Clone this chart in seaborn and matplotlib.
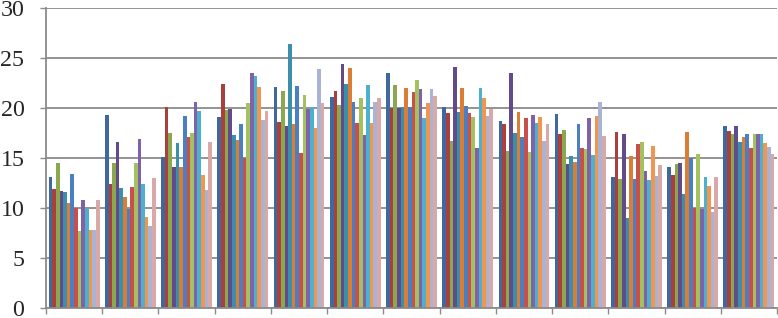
import pandas as pd
import seaborn as sns
import matplotlib.pyplot as plt


# 13 groups along the x axis (no labels shown in the chart)
groups = [f'g{i + 1}' for i in range(13)]

# 14 series, one value per group
s01 = [13.1, 19.3, 15.1, 19.1, 22.1, 21.1, 23.5, 20.1, 18.7, 19.4, 13.1, 14.1, 18.2]
s02 = [11.9, 12.4, 20.1, 22.4, 18.6, 21.7, 20.0, 19.5, 18.4, 17.4, 17.6, 13.3, 17.7]
s03 = [14.5, 14.5, 17.5, 19.8, 21.7, 20.3, 22.3, 16.7, 15.7, 17.8, 12.9, 14.4, 17.4]
s04 = [11.7, 16.6, 14.1, 19.9, 18.2, 24.4, 20.0, 24.1, 23.5, 14.4, 17.4, 14.5, 18.2]
s05 = [11.6, 12.0, 16.5, 17.3, 26.4, 22.4, 20.1, 19.6, 17.5, 15.2, 9.0, 11.4, 16.6]
s06 = [10.5, 11.1, 14.1, 16.8, 18.4, 24.0, 22.0, 22.0, 19.6, 14.6, 15.2, 17.6, 17.1]
s07 = [13.4, 9.9, 19.2, 18.4, 22.2, 20.6, 20.1, 20.2, 17.1, 18.4, 12.9, 15.0, 17.4]
s08 = [10.0, 12.1, 17.1, 15.0, 15.5, 18.5, 21.6, 19.5, 19.0, 16.0, 16.4, 10.0, 16.0]
s09 = [7.7, 14.5, 17.5, 20.5, 21.3, 21.0, 22.8, 19.1, 15.6, 15.9, 16.6, 15.4, 17.4]
s10 = [10.8, 16.9, 20.6, 23.5, 19.9, 17.3, 21.9, 16.0, 19.3, 19.0, 13.7, 9.9, 17.4]
s11 = [9.9, 12.4, 19.7, 23.2, 20.1, 22.3, 19.0, 22.0, 18.5, 15.3, 12.8, 13.1, 17.4]
s12 = [7.8, 9.1, 13.3, 22.1, 18.0, 18.5, 20.5, 21.0, 19.1, 19.2, 16.2, 12.2, 16.5]
s13 = [7.8, 8.2, 11.8, 18.8, 23.9, 20.6, 21.9, 19.2, 16.7, 20.6, 13.2, 9.6, 16.1]
s14 = [10.8, 13.0, 16.6, 19.7, 20.5, 21.0, 21.2, 19.9, 18.4, 17.2, 14.3, 13.1, 15.4]

series = [s01, s02, s03, s04, s05, s06, s07, s08, s09, s10, s11, s12, s13, s14]
series_names = [f'S{i + 1}' for i in range(len(series))]

colors = ['#41679f', '#a9403d', '#8ca84e', '#614b8a', '#3a90aa', '#db7d35',
          '#4b7fc3', '#c94f4c', '#a3c15f', '#7f63a9', '#4bb1cf', '#f2954e',
          '#a9b4d4', '#d8a9a8']

# long format for seaborn
rows = []
for name, vals in zip(series_names, series):
    for g, v in zip(groups, vals):
        rows.append({'group': g, 'series': name, 'value': v})
df = pd.DataFrame(rows)

sns.set_style('white')
plt.rcParams['font.family'] = ['Liberation Serif', 'DejaVu Serif']

fig = plt.figure(figsize=(7.78, 3.18), dpi=100)
ax = fig.add_axes([46 / 778, 10 / 318, 731 / 778, 300 / 318])

sns.barplot(data=df, x='group', y='value', hue='series', palette=colors,
            order=groups, hue_order=series_names, width=14 / 15.5, gap=0,
            saturation=1, linewidth=0, errorbar=None, legend=False, ax=ax)

grid_color = '#8a8a8a'
ax.set_ylim(0, 30)
ax.set_xlim(-0.5, len(groups) - 0.5)
ax.set_yticks(range(0, 31, 5))
ax.set_xticks([i - 0.5 for i in range(len(groups) + 1)])
ax.set_xticklabels([])
ax.set_xlabel('')
ax.set_ylabel('')

ax.yaxis.grid(True, color=grid_color, linewidth=1.3)
ax.set_axisbelow(True)
ax.tick_params(axis='y', direction='out', length=4.5, width=1, color=grid_color,
               labelsize=17.3, pad=11, left=True)
ax.tick_params(axis='x', direction='out', length=4.5, width=1, color=grid_color,
               bottom=True)

for side in ['top', 'right']:
    ax.spines[side].set_visible(False)
for side in ['left', 'bottom']:
    ax.spines[side].set_color(grid_color)
    ax.spines[side].set_linewidth(1.3)

fig.savefig('out.png', dpi=100)
